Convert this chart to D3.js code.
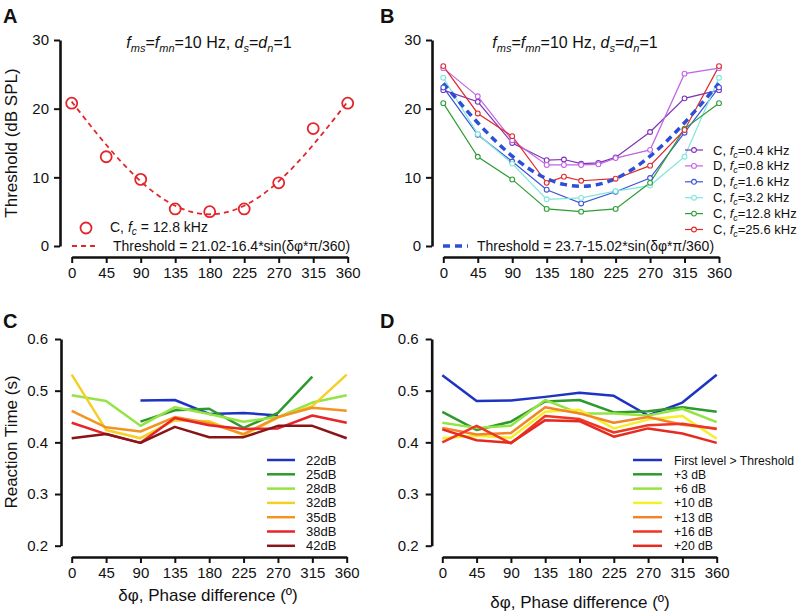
<!DOCTYPE html>
<html><head><meta charset="utf-8">
<script src="https://cdn.jsdelivr.net/npm/d3@7"></script>
<style>
body{margin:0;background:#fff;}
svg text{font-family:"Liberation Sans",Arial,Helvetica,sans-serif;fill:#111;}
</style></head>
<body><svg id="c" width="799" height="614"></svg>
<script>
// ---------- DATA ----------
const angles = [0,45,90,135,180,225,270,315,360];
const angleTicks = [0,45,90,135,180,225,270,315,360];
const thrTicks = [0,10,20,30];
const rtTicks = [0.2,0.3,0.4,0.5,0.6];

// Panel A
const thrA = [20.8,13.0,9.7,5.4,5.0,5.4,9.2,17.1,20.8];
const fitAngles = [0,22.5,45,67.5,90,112.5,135,157.5,180,202.5,225,247.5,270,292.5,315,337.5,360];
const fitA = [21.02,17.82,14.74,11.91,9.42,7.38,5.87,4.93,4.62,4.93,5.87,7.38,9.42,11.91,14.74,17.82,21.02];

// Panel B
const anglesB11 = [0,45,90,135,157.5,180,202.5,225,270,315,360];
const anglesB10 = [0,45,90,135,157.5,180,225,270,315,360];
const thrC04 = [22.7,21.0,15.0,12.5,12.6,12.0,12.1,12.9,16.6,21.5,22.7];
const thrD08 = [25.9,21.8,15.4,11.8,11.8,11.8,11.9,12.8,14.0,25.1,25.9];
const thrD16 = [23.1,16.2,12.3,8.2,6.2,7.9,9.9,16.5,23.1];
const thrC32 = [24.5,16.3,12.0,6.8,7.0,8.0,8.8,13.0,24.5];
const thrC128 = [20.8,13.0,9.7,5.4,5.0,5.4,9.2,17.1,20.8];
const thrC256 = [26.2,19.3,16.0,9.2,10.1,9.5,9.8,11.7,16.9,26.2];
const fitB = [23.7,20.77,17.95,15.36,13.08,11.21,9.82,8.97,8.68,8.97,9.82,11.21,13.08,15.36,17.95,20.77,23.7];

// Panel C (reaction times by level)
const levelsC = ["22dB","25dB","28dB","32dB","35dB","38dB","42dB"];
const rt22 = [null,null,0.481,0.482,0.455,0.457,0.452,null,null];
const rt25 = [null,null,0.440,0.462,0.465,0.428,0.457,0.527,null];
const rt28 = [0.491,0.480,0.432,0.468,0.455,0.440,0.449,0.477,0.491];
const rt32 = [0.531,0.424,0.408,0.443,0.441,0.414,0.448,0.470,0.531];
const rt35 = [0.461,0.429,0.421,0.449,0.437,0.416,0.449,0.467,0.461];
const rt38 = [0.438,0.416,0.399,0.447,0.433,0.426,0.427,0.452,0.438];
const rt42 = [0.408,0.416,0.399,0.430,0.410,0.410,0.432,0.432,0.408];

// Panel D (reaction times relative to threshold)
const levelsD = ["First level > Threshold","+3 dB","+6 dB","+10 dB","+13 dB","+16 dB","+20 dB"];
const rtFirst = [0.530,0.480,0.481,0.488,0.496,0.490,0.452,0.477,0.531];
const rtP3 = [0.459,0.424,0.440,0.479,0.482,0.458,0.460,0.468,0.459];
const rtP6 = [0.438,0.428,0.432,0.482,0.456,0.456,0.452,0.465,0.439];
const rtP10 = [0.408,0.413,0.409,0.459,0.463,0.427,0.444,0.451,0.407];
const rtP13 = [0.428,0.415,0.418,0.468,0.456,0.438,0.449,0.434,0.427];
const rtP16 = [0.400,0.432,0.398,0.451,0.445,0.419,0.433,0.436,0.426];
const rtP20 = [0.425,0.404,0.399,0.443,0.441,0.411,0.427,0.417,0.399];

// ---------- DRAW ----------
const svg = d3.select("#c");

function rich(sel, parts, size){
  const sh = Math.round(size*0.22);
  let down = false;
  parts.forEach(p=>{
    const t = sel.append("tspan").text(p.t);
    if(p.i) t.attr("font-style","italic");
    if(p.sub){
      t.attr("font-size", Math.round(size*0.68));
      if(!down){ t.attr("dy", sh); down = true; }
    } else if(down){ t.attr("dy", -sh); down = false; }
  });
}

function axes(g, x, y, yTicks, yFmt, axX, axY, yPad){
  const ya = d3.axisLeft(y).tickValues(yTicks).tickFormat(yFmt).tickSize(6).tickSizeOuter(0).tickPadding(yPad);
  const gy = g.append("g").attr("transform",`translate(${axX},0)`).call(ya);
  const xa = d3.axisBottom(x).tickValues(angleTicks).tickFormat(d3.format("d")).tickSize(6).tickSizeOuter(0).tickPadding(4);
  const gx = g.append("g").attr("transform",`translate(0,${axY})`).call(xa);
  [gx,gy].forEach(a=>{
    a.select(".domain").attr("stroke","#111").attr("stroke-width",2.6);
    a.selectAll(".tick line").attr("stroke","#111").attr("stroke-width",2);
    a.selectAll(".tick text").attr("font-size",15).attr("fill","#111")
      .style("font-family",'"Liberation Sans",Arial,Helvetica,sans-serif');
  });
}

function letter(t,x,y){
  svg.append("text").attr("x",x).attr("y",y).attr("font-size",20).attr("font-weight","bold").text(t);
}

const subtitleParts = [{t:"f",i:1},{t:"ms",i:1,sub:1},{t:"="},{t:"f",i:1},{t:"mn",i:1,sub:1},{t:"=10 Hz, "},{t:"d",i:1},{t:"s",i:1,sub:1},{t:"="},{t:"d",i:1},{t:"n",i:1,sub:1},{t:"=1"}];

// ===== Panel A =====
{
  const g = svg.append("g");
  const x = d3.scaleLinear().domain([0,360]).range([71.7,347.7]);
  const y = d3.scaleLinear().domain([0,30]).range([246,40]);
  axes(g,x,y,thrTicks,d3.format("d"),60,257,5);
  const fit = d3.line().x((d,i)=>x(fitAngles[i])).y(d=>y(d)).curve(d3.curveCatmullRom);
  g.append("path").attr("d",fit(fitA)).attr("fill","none").attr("stroke","#e3262b").attr("stroke-width",1.8).attr("stroke-dasharray","5,4");
  g.selectAll("circle.a").data(thrA).join("circle").attr("cx",(d,i)=>x(angles[i])).attr("cy",d=>y(d)).attr("r",5.5)
    .attr("fill","none").attr("stroke","#e3262b").attr("stroke-width",1.8);
  const st = g.append("text").attr("x",209).attr("y",48).attr("text-anchor","middle").attr("font-size",16);
  rich(st,subtitleParts,16);
  // legend
  g.append("circle").attr("cx",86).attr("cy",228).attr("r",5.5).attr("fill","none").attr("stroke","#e3262b").attr("stroke-width",1.8);
  const l1 = g.append("text").attr("x",110).attr("y",232).attr("font-size",14);
  rich(l1,[{t:"C, "},{t:"f",i:1},{t:"c",i:1,sub:1},{t:" = 12.8 kHz"}],14);
  g.append("line").attr("x1",72).attr("x2",98).attr("y1",246).attr("y2",246).attr("stroke","#e3262b").attr("stroke-width",1.8).attr("stroke-dasharray","5,4");
  g.append("text").attr("x",113).attr("y",251).attr("font-size",14).text("Threshold = 21.02-16.4*sin(δφ*π/360)");
  g.append("text").attr("transform","translate(17,143) rotate(-90)").attr("text-anchor","middle").attr("font-size",17).text("Threshold (dB SPL)");
  letter("A",3,23);
}

// ===== Panel B =====
{
  const g = svg.append("g");
  const x = d3.scaleLinear().domain([0,360]).range([443.3,719]);
  const y = d3.scaleLinear().domain([0,30]).range([246,40]);
  axes(g,x,y,thrTicks,d3.format("d"),432,257,5);
  const series = [
    {name:"C, ", fc:"=0.4 kHz", a:anglesB11, v:thrC04, c:"#7d33b8"},
    {name:"D, ", fc:"=0.8 kHz", a:anglesB11, v:thrD08, c:"#c264e6"},
    {name:"D, ", fc:"=1.6 kHz", a:angles, v:thrD16, c:"#3d55d6"},
    {name:"C, ", fc:"=3.2 kHz", a:angles, v:thrC32, c:"#7fe6dc"},
    {name:"C, ", fc:"=12.8 kHz", a:angles, v:thrC128, c:"#2f9d35"},
    {name:"C, ", fc:"=25.6 kHz", a:anglesB10, v:thrC256, c:"#e02a2a"}
  ];
  const ln = d3.line();
  series.forEach(s=>{
    const pts = s.v.map((v,i)=>[x(s.a[i]),y(v)]);
    g.append("path").attr("d",ln(pts)).attr("fill","none").attr("stroke",s.c).attr("stroke-width",1.2);
  });
  const fit = d3.line().x((d,i)=>x(fitAngles[i])).y(d=>y(d)).curve(d3.curveCatmullRom);
  g.append("path").attr("d",fit(fitB)).attr("fill","none").attr("stroke","#2b4fd6").attr("stroke-width",3.5).attr("stroke-dasharray","7,5");
  series.forEach(s=>{
    g.selectAll(null).data(s.v).join("circle").attr("cx",(d,i)=>x(s.a[i])).attr("cy",d=>y(d)).attr("r",2.4)
      .attr("fill","#fff").attr("stroke",s.c).attr("stroke-width",1.1);
  });
  const st = g.append("text").attr("x",575).attr("y",48).attr("text-anchor","middle").attr("font-size",16);
  rich(st,subtitleParts,16);
  series.forEach((s,i)=>{
    const yy = 150 + i*15.9;
    g.append("line").attr("x1",685).attr("x2",703).attr("y1",yy).attr("y2",yy).attr("stroke",s.c).attr("stroke-width",1.2);
    g.append("circle").attr("cx",694).attr("cy",yy).attr("r",2.4).attr("fill","#fff").attr("stroke",s.c).attr("stroke-width",1.1);
    const t = g.append("text").attr("x",713).attr("y",yy+4.5).attr("font-size",13);
    rich(t,[{t:s.name},{t:"f",i:1},{t:"c",i:1,sub:1},{t:s.fc}],13);
  });
  g.append("line").attr("x1",443).attr("x2",468).attr("y1",246).attr("y2",246).attr("stroke","#2b4fd6").attr("stroke-width",3.5).attr("stroke-dasharray","7,5");
  g.append("text").attr("x",477).attr("y",251).attr("font-size",14).text("Threshold = 23.7-15.02*sin(δφ*π/360)");
  letter("B",380,23);
}

// ===== Panels C & D =====
function rtPanel(xRange, axX, seriesVals, names, colors, legLineX, legTextX, legSize, titleX, titleY, lab, labX){
  const g = svg.append("g");
  const x = d3.scaleLinear().domain([0,360]).range(xRange);
  const y = d3.scaleLinear().domain([0.2,0.6]).range([545.7,339]);
  axes(g,x,y,rtTicks,d3.format(".1f"),axX,557,7);
  const ln = d3.line().defined(d=>d!=null).x((d,i)=>x(angles[i])).y(d=>y(d));
  seriesVals.forEach((v,k)=>{
    g.append("path").attr("d",ln(v)).attr("fill","none").attr("stroke",colors[k]).attr("stroke-width",2.5).attr("stroke-linejoin","round");
  });
  names.forEach((n,k)=>{
    const yy = 460 + k*14.3;
    g.append("line").attr("x1",legLineX[0]).attr("x2",legLineX[1]).attr("y1",yy).attr("y2",yy).attr("stroke",colors[k]).attr("stroke-width",2.5);
    g.append("text").attr("x",legTextX).attr("y",yy+4.5).attr("font-size",legSize).text(n);
  });
  g.append("text").attr("x",titleX).attr("y",titleY).attr("text-anchor","middle").attr("font-size",17).text("δφ, Phase difference (º)");
  letter(lab,labX,328);
  return g;
}
const colorsC = ["#1f33c2","#2e9a2e","#95e445","#f2d027","#f39324","#e8242a","#8a1517"];
const colorsD = ["#1f33c2","#2e9a2e","#95e445","#f5ef2a","#f3842a","#ef3524","#e52a20"];
const gC = rtPanel([71.7,346.7],61,[rt22,rt25,rt28,rt32,rt35,rt38,rt42],levelsC,colorsC,[267,295],306,13,208,601,"C",3);
gC.append("text").attr("transform","translate(17,442) rotate(-90)").attr("text-anchor","middle").attr("font-size",17).text("Reaction Time (s)");
rtPanel([442.3,716.7],431.7,[rtFirst,rtP3,rtP6,rtP10,rtP13,rtP16,rtP20],levelsD,colorsD,[633,662],674,12.2,580,608,"D",380);
</script></body></html>
